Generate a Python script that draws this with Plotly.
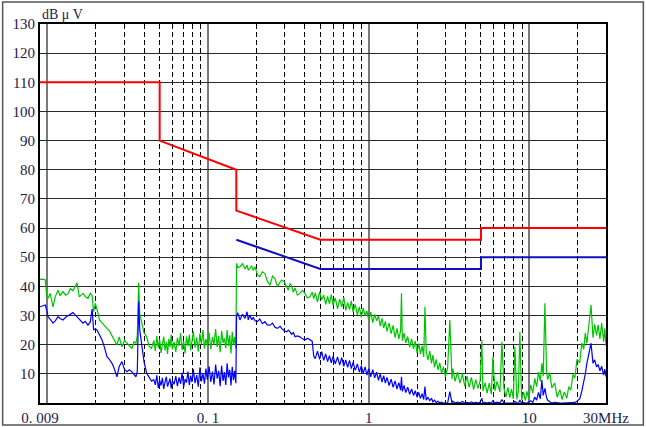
import plotly.graph_objects as go

# frequency axis in MHz, shared by both measured traces
freq_mhz = [
    0.009, 0.0093, 0.0097, 0.0099, 0.0101, 0.0104, 0.01085, 0.0112, 0.01165, 0.012,
    0.0125, 0.013, 0.0135, 0.0139, 0.01444, 0.0149, 0.0153, 0.0158, 0.01667, 0.0172,
    0.0179, 0.0185, 0.019, 0.0194, 0.0199, 0.0204, 0.0211, 0.0219, 0.0227, 0.0235,
    0.0243, 0.0252, 0.026, 0.0271, 0.028, 0.0291, 0.0302, 0.0313, 0.0324, 0.0336,
    0.0346, 0.0356, 0.0363, 0.037, 0.0376, 0.0387, 0.040, 0.0415, 0.043, 0.0445,
    0.046, 0.047, 0.048, 0.049, 0.050, 0.051, 0.052, 0.053, 0.054, 0.055, 0.056, 0.057, 0.058, 0.059, 0.060,
    0.0615, 0.063, 0.0645, 0.066, 0.0675, 0.069, 0.0705, 0.072, 0.0735, 0.075, 0.0765, 0.078, 0.0795,
    0.081, 0.083, 0.085, 0.087, 0.089, 0.091, 0.093, 0.095, 0.097, 0.099,
    0.1015, 0.104, 0.1065, 0.109, 0.1115, 0.114, 0.1165, 0.119, 0.1215, 0.124,
    0.1265, 0.129, 0.1315, 0.134, 0.1365, 0.139, 0.1415, 0.144, 0.1465, 0.149,
    0.1505, 0.153, 0.158, 0.164, 0.170, 0.175, 0.178, 0.182, 0.187, 0.191,
    0.196, 0.203, 0.210, 0.218, 0.226, 0.234, 0.243, 0.252, 0.261, 0.270,
    0.281, 0.287, 0.298, 0.309, 0.316, 0.324, 0.331, 0.340, 0.348, 0.360,
    0.373, 0.387, 0.401, 0.416, 0.431, 0.445, 0.455,
    0.465, 0.48, 0.495, 0.51, 0.525, 0.54, 0.555, 0.57, 0.585, 0.60,
    0.62, 0.64, 0.66, 0.68, 0.70, 0.72, 0.74, 0.76, 0.78, 0.80,
    0.825, 0.85, 0.875, 0.90, 0.925, 0.95, 0.975, 1.0,
    1.03, 1.06, 1.09, 1.12, 1.15, 1.18, 1.21, 1.24, 1.27, 1.30,
    1.34, 1.38, 1.42, 1.46, 1.50, 1.54, 1.58, 1.60, 1.62, 1.66, 1.70,
    1.75, 1.80, 1.85, 1.90, 1.95, 2.00, 2.05, 2.10, 2.15, 2.20, 2.24, 2.28,
    2.34, 2.40, 2.46, 2.51, 2.57, 2.63, 2.70, 2.77, 2.84, 2.92, 3.00,
    3.10, 3.20, 3.30, 3.34, 3.45, 3.57, 3.70, 3.83, 3.96, 4.09,
    4.22, 4.36, 4.50, 4.64, 4.79, 4.94, 5.06, 5.14, 5.30, 5.46,
    5.63, 5.80, 5.93, 6.10, 6.30, 6.56, 6.75, 6.95, 7.15, 7.35,
    7.55, 7.75, 7.95, 8.13, 8.36, 8.55, 8.73, 8.95, 9.2, 9.45,
    9.65, 9.9, 10.2, 10.5, 10.8, 11.1, 11.4, 11.7, 11.97, 12.2,
    12.5, 12.8, 13.0, 13.4, 13.8, 14.4, 14.9, 15.5, 16.0, 16.5,
    17.1, 17.6, 18.1, 18.7, 19.2, 19.8, 20.6, 21.2, 21.8, 22.3,
    22.8, 23.4, 24.2, 24.9, 25.5, 26.2, 26.8, 27.5, 28.2, 29.0, 29.5, 30.0,
]

# peak / quasi-peak scan (green), dBuV
peak_dbuv = [
    42.4, 42.5, 42.3, 37.0, 35.9, 37.6, 33.0, 36.5, 38.7, 36.8,
    38.2, 37.0, 37.6, 39.3, 38.5, 39.8, 41.2, 36.4, 37.6, 36.5,
    35.9, 37.6, 36.8, 31.3, 34.2, 32.0, 28.5, 27.5, 26.4, 25.6,
    24.8, 23.3, 22.0, 19.9, 22.7, 19.3, 21.5, 20.5, 19.6, 18.7,
    21.0, 20.5, 23.0, 41.2, 30.5, 27.3, 24.0, 22.7, 19.5, 18.7,
    21.5, 17.8, 23.0, 19.0, 21.8, 17.2, 20.5, 22.8, 18.0, 21.0, 16.8, 22.0, 19.2, 23.5, 18.4,
    21.0, 17.5, 22.4, 19.6, 24.0, 18.2, 21.2, 17.0, 22.8, 19.5, 23.4, 18.0, 21.6,
    24.6, 19.0, 22.5, 17.6, 23.8, 20.2, 25.0, 18.6, 22.0, 19.8,
    24.2, 18.5, 22.6, 20.0, 25.4, 19.2, 23.0, 17.4, 24.8, 20.6,
    22.2, 18.8, 25.0, 19.6, 23.2, 17.0, 24.4, 19.8, 22.6, 18.6,
    47.9, 46.5, 46.7, 47.8, 46.0, 47.3, 45.6, 46.2, 47.0, 45.5,
    46.7, 44.0, 43.3, 45.0, 44.4, 41.8, 40.4, 43.5, 42.7, 40.0,
    41.6, 42.2, 41.6, 39.4, 38.7, 41.0, 40.2, 38.0, 39.5, 37.0,
    37.6, 38.6, 37.6, 36.0, 36.4, 38.0, 35.8,
    37.8, 34.6, 38.2, 35.4, 37.0, 33.8, 36.6, 34.0, 37.2, 33.6,
    36.0, 32.4, 35.6, 33.0, 36.2, 31.8, 34.4, 32.0, 35.0, 31.2,
    33.8, 30.2, 33.0, 29.4, 32.6, 30.0, 31.6, 28.4,
    31.2, 27.6, 30.4, 28.2, 29.8, 26.4, 29.0, 25.8, 28.0, 24.6,
    27.4, 23.8, 26.6, 22.4, 25.6, 22.0, 24.8, 37.6, 21.4, 24.0, 20.6,
    22.8, 19.2, 22.0, 18.6, 21.2, 17.2, 20.4, 16.8, 19.6, 15.8, 33.0, 17.6,
    14.8, 17.8, 13.6, 16.4, 12.2, 15.0, 11.4, 13.8, 10.2, 12.4, 9.0,
    12.0, 28.5, 8.2, 11.8, 7.4, 10.6, 6.8, 10.0, 5.8, 9.2,
    5.4, 8.8, 4.6, 8.0, 5.0, 7.6, 21.6, 4.2, 7.0, 3.4,
    6.8, 3.0, 15.9, 4.2, 7.4, 3.8, 21.0, 5.0, 2.0, 5.4,
    1.8, 4.8, 1.4, 19.3, 1.2, 4.2, 24.4, 1.0, 3.8, 0.8,
    4.0, 1.6, 6.2, 3.4, 8.4, 5.6, 10.6, 7.4, 13.6, 9.2,
    34.2, 11.0, 8.0, 10.4, 5.2, 6.8, 2.0, 4.6, 1.2, 3.8,
    1.6, 5.6, 4.4, 9.8, 8.6, 15.0, 13.8, 20.6, 18.4, 24.0,
    20.4, 25.8, 33.6, 22.4, 27.0, 23.2, 26.8, 22.0, 27.4, 21.0, 25.6, 19.6,
]

# average scan (blue), dBuV
avg_dbuv = [
    33.0, 33.3, 33.6, 32.0, 29.6, 28.8, 27.4, 28.2, 29.6, 29.0,
    28.5, 29.4, 30.0, 30.5, 31.0, 30.2, 29.5, 28.6, 27.4, 28.0,
    26.7, 27.8, 32.2, 25.0, 25.5, 25.0, 23.5, 21.6, 19.0, 15.9,
    15.0, 13.7, 12.0, 9.0, 12.5, 14.2, 11.5, 10.7, 11.4, 10.7,
    9.8, 9.0, 11.0, 34.7, 25.0, 19.3, 14.0, 10.2, 9.0, 7.5,
    8.0, 6.2, 9.5, 5.2, 7.8, 6.0, 8.6, 4.8, 7.2, 9.0, 5.6, 7.0, 8.4, 5.0, 7.6,
    6.4, 9.2, 5.8, 8.8, 6.6, 10.4, 5.4, 8.2, 7.0, 10.8, 6.2, 9.4, 7.2,
    11.6, 6.8, 9.6, 5.6, 12.2, 7.4, 10.2, 6.6, 11.8, 8.0,
    12.6, 7.2, 10.8, 6.4, 13.2, 8.4, 11.0, 5.8, 12.8, 7.6,
    10.6, 6.2, 13.6, 8.8, 11.4, 6.0, 12.4, 7.8, 11.0, 6.8,
    29.6, 31.0, 28.5, 30.4, 29.0, 31.3, 28.5, 30.2, 28.5, 29.4,
    28.2, 27.9, 28.8, 27.2, 27.9, 26.8, 26.7, 27.4, 26.0, 25.6,
    26.3, 25.6, 24.8, 24.4, 25.0, 24.4, 23.6, 24.2, 22.7, 23.0,
    22.7, 22.0, 21.6, 22.2, 21.6, 21.2, 16.0,
    15.2, 17.8, 15.0, 17.6, 14.6, 16.8, 14.2, 16.2, 13.8, 16.0,
    13.4, 15.8, 13.0, 15.6, 12.6, 14.8, 12.2, 14.6, 11.8, 14.0,
    11.2, 13.4, 10.6, 12.8, 10.2, 12.4, 9.6, 11.8,
    9.0, 11.4, 8.6, 10.6, 7.8, 10.0, 7.2, 9.4, 6.8, 8.8,
    6.0, 8.2, 5.4, 7.6, 4.8, 7.0, 4.4, 9.0, 4.0, 6.0, 3.6,
    5.4, 3.0, 4.8, 2.6, 4.2, 2.0, 3.6, 1.6, 3.2, 1.2, 5.6, 1.0,
    2.0, 0.8, 1.6, 0.4, 1.0, 0.2, 0.6, 0.0, 0.3, 0.0, 0.0,
    0.0, 3.9, 0.0, 0.6, 0.0, 0.3, 0.0, 0.5, 0.0, 0.2,
    0.0, 0.4, 0.0, 0.2, 0.0, 0.3, 1.6, 0.0, 0.2, 0.0,
    0.2, 0.0, 0.8, 0.0, 0.3, 0.0, 1.2, 0.0, 0.0, 0.2,
    0.0, 0.2, 0.0, 0.6, 0.0, 0.0, 1.0, 0.0, 0.2, 0.0,
    0.0, 0.3, 0.8, 0.2, 2.0, 1.0, 3.6, 1.4, 7.9, 2.6,
    5.0, 1.8, 1.0, 0.4, 0.0, 0.2, 0.0, 0.0, 0.0, 0.0,
    0.0, 0.0, 0.0, 0.0, 0.2, 0.6, 1.5, 4.0, 7.0, 10.0,
    13.5, 17.0, 20.5, 13.6, 14.8, 12.4, 13.2, 11.0, 12.6, 9.6, 11.6, 9.0,
]

# limit lines
qp_limit_freq = [0.009, 0.05, 0.05, 0.15, 0.15, 0.5, 5, 5, 30]
qp_limit_db = [110, 110, 90, 80, 66, 56, 56, 60, 60]
avg_limit_freq = [0.15, 0.5, 5, 5, 30]
avg_limit_db = [56, 46, 46, 50, 50]

# axis ticks
x_tickvals = [0.009, 0.01, 0.1, 1, 10, 30]
x_ticktext = ["0. 009", "", "0. 1", "1", "10", "30MHz"]
x_dashed = [0.02, 0.03, 0.04, 0.05, 0.06, 0.07, 0.08, 0.09,
            0.2, 0.3, 0.4, 0.5, 0.6, 0.7, 0.8, 0.9,
            2, 3, 4, 5, 6, 7, 8, 9, 20]
y_tickvals = [10, 20, 30, 40, 50, 60, 70, 80, 90, 100, 110, 120, 130]

TEXT = "#1c1c48"
FONT = "'Liberation Serif', 'DejaVu Serif', serif"

fig = go.Figure()

fig.add_scatter(x=freq_mhz, y=peak_dbuv, mode="lines",
                line=dict(color="#00c400", width=1.2))
fig.add_scatter(x=freq_mhz, y=avg_dbuv, mode="lines",
                line=dict(color="#0000ff", width=1.2))
fig.add_scatter(x=avg_limit_freq, y=avg_limit_db, mode="lines",
                line=dict(color="#1010c0", width=2))
fig.add_scatter(x=qp_limit_freq, y=qp_limit_db, mode="lines",
                line=dict(color="#ff0000", width=2))

fig.update_layout(
    width=646, height=427,
    margin=dict(l=40, r=40, t=24, b=24),
    paper_bgcolor="white", plot_bgcolor="white",
    showlegend=False,
    font=dict(family=FONT, size=15, color=TEXT),
)

fig.update_xaxes(
    type="log", range=[-2.0458, 1.4771], automargin=False,
    tickmode="array", tickvals=x_tickvals, ticktext=x_ticktext,
    ticks="", showgrid=True, gridcolor="#7a7a7a", gridwidth=2,
    showline=True, mirror=True, linecolor="black", linewidth=2,
    zeroline=False,
    minor=dict(tickmode="array", tickvals=x_dashed, showgrid=True,
               gridcolor="black", gridwidth=1, griddash="5px,3px", ticks=""),
)
fig.update_yaxes(
    range=[0, 130], automargin=False,
    tickmode="array", tickvals=y_tickvals,
    ticks="", showgrid=True, gridcolor="#2a2a2a", gridwidth=1,
    showline=True, mirror=True, linecolor="black", linewidth=2,
    zeroline=False,
)

fig.add_annotation(text="dB μ V", xref="paper", yref="paper", x=0, y=1,
                   xanchor="left", yanchor="bottom", showarrow=False,
                   font=dict(family=FONT, size=14, color=TEXT))

# outer frame around the whole picture
fig.add_shape(type="rect", xref="paper", yref="paper",
              x0=-0.066, x1=1.066, y0=-0.058, y1=1.058,
              line=dict(color="#555555", width=1.5))

fig.write_html(
    "out.html",
    config={"displayModeBar": False, "responsive": False},
    post_script="document.body.style.margin = '0';"
                "document.documentElement.style.overflow = 'hidden';",
)
